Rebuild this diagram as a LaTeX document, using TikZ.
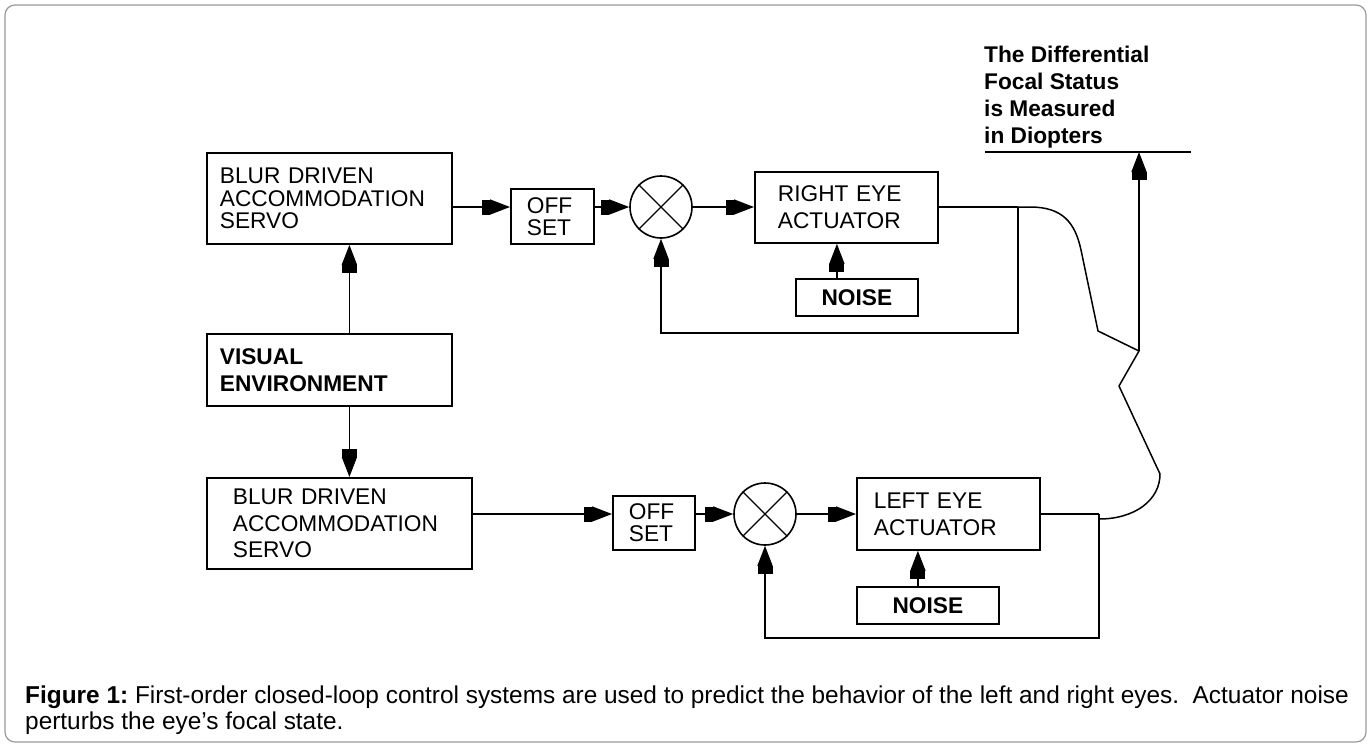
\documentclass[tikz,border=0pt]{standalone}
\usepackage{fontspec}
\setmainfont{Liberation Sans}
\usetikzlibrary{arrows.meta}
\frenchspacing
\tikzset{
  block/.style={draw,line width=1.8pt,rectangle,align=left,anchor=north west,inner ysep=0pt},
  linegap/.style={font=\fontsize{22.7pt}{#1pt}\selectfont},
  sumjn/.style={draw,circle,line width=1.6pt,minimum size=62pt,inner sep=0pt},
  conn/.style={line width=1.5pt},
  arr/.style={conn,-{Rectangle[length=8pt,width=15pt]Triangle[length=20pt,width=15pt]}}
}

\begin{document}
\begin{tikzpicture}[x=1pt,y=-1pt]
  \useasboundingbox (0,0) rectangle (1371,747);
  \draw[rounded corners=10pt,line width=1.2pt,black!40] (5,5) rectangle (1366,742);

  % left column
  \node[block,linegap=22.5,minimum width=245pt,minimum height=91pt,text width=219pt,inner xsep=13pt]
    (blurT) at (206,152) {BLUR DRIVEN\\ACCOMMODATION\\SERVO};
  \node[block,linegap=27,minimum width=245pt,minimum height=72pt,text width=219pt,inner xsep=13pt]
    (vis) at (206,333) {\bfseries VISUAL\\\bfseries ENVIRONMENT};
  \node[block,linegap=26.5,minimum width=265pt,minimum height=91pt,text width=213pt,inner xsep=26pt]
    (blurB) at (206,477) {BLUR DRIVEN\\ACCOMMODATION\\SERVO};

  % right eye loop
  \node[block,linegap=22,minimum width=83pt,minimum height=55pt,text width=51pt,inner xsep=16pt]
    (offT) at (510,188) {OFF\\SET};
  \node[sumjn] (sumT) at (661,207) {};
  \node[block,linegap=26.5,minimum width=183pt,minimum height=71pt,text width=137pt,inner xsep=23pt]
    (eyeR) at (754,171) {RIGHT EYE\\ACTUATOR};
  \node[block,linegap=22,minimum width=122pt,minimum height=37pt,align=center,text width=110pt,inner xsep=6pt]
    (noiseT) at (795,278) {\bfseries NOISE};

  % left eye loop
  \node[block,linegap=22,minimum width=82pt,minimum height=54pt,text width=50pt,inner xsep=16pt]
    (offB) at (612,495) {OFF\\SET};
  \node[sumjn] (sumB) at (765,514) {};
  \node[block,linegap=27,minimum width=183pt,minimum height=72pt,text width=149pt,inner xsep=17pt]
    (eyeL) at (856,477) {LEFT EYE\\ACTUATOR};
  \node[block,linegap=22,minimum width=142pt,minimum height=37pt,align=center,text width=130pt,inner xsep=6pt]
    (noiseB) at (856,586) {\bfseries NOISE};

  % output label
  \node[anchor=north west,align=left,inner sep=0pt,font=\fontsize{22.7pt}{27pt}\selectfont\bfseries]
    (diop) at (984,46) {The Differential\\Focal Status\\is Measured\\in Diopters};
  \coordinate (outL) at (985,152);
  \coordinate (outR) at (1191,152);
  \draw[conn] (outL) -- (outR);

  % sum crosses
  \foreach \s in {sumT,sumB}
    \draw[line width=1.2pt] (\s.45) -- (\s.225) (\s.135) -- (\s.315);

  % signal flow
  \draw[arr] ([xshift=20pt]vis.north) -- ([xshift=20pt]vis.north |- blurT.south);
  \draw[arr] ([xshift=20pt]vis.south) -- ([xshift=20pt]vis.south |- blurB.north);

  \draw[arr] (blurT.east |- sumT) -- (offT.west |- sumT);
  \draw[arr] (offT.east |- sumT) -- (sumT.west);
  \draw[arr] (sumT.east) -- (eyeR.west |- sumT);
  \draw[arr] ([xshift=-20pt]noiseT.north) -- ([xshift=-20pt]noiseT.north |- eyeR.south);

  \draw[arr] (blurB.east |- sumB) -- (offB.west |- sumB);
  \draw[arr] (offB.east |- sumB) -- (sumB.west);
  \draw[arr] (sumB.east) -- (eyeL.west |- sumB);
  \draw[arr] ([xshift=-10pt]noiseB.north) -- ([xshift=-10pt]noiseB.north |- eyeL.south);

  % feedback paths
  \coordinate (tapR) at (1018,207);
  \coordinate (tapL) at (1099,514);
  \draw[conn] (eyeR.east |- sumT) -- (tapR);
  \draw[arr] (tapR) -- (1018,333) -| (sumT.south);
  \draw[conn] (eyeL.east |- sumB) -- (tapL);
  \draw[arr] (tapL) -- (1099,638) -| (sumB.south);

  % difference of the two outputs
  \coordinate (jn) at (1139,351);
  \draw[conn] (tapR) -- (1030,207) .. controls (1062,207) and (1075,222) .. (1081,250)
    -- (1098,331) -- (jn) -- (1119,386) -- (1160,474)
    .. controls (1160,500) and (1135,519) .. (tapL |- 0,519);
  \draw[arr] (jn) -- (jn |- outL);

  % caption
  \node[anchor=north west,align=left,inner sep=0pt,font=\fontsize{24.4pt}{26pt}\selectfont]
    (cap) at (25,686) {\textbf{Figure 1:} First-order closed-loop control systems are used to predict the behavior of the left and right eyes.\ \ Actuator noise\\perturbs the eye’s focal state.};
\end{tikzpicture}
\end{document}
